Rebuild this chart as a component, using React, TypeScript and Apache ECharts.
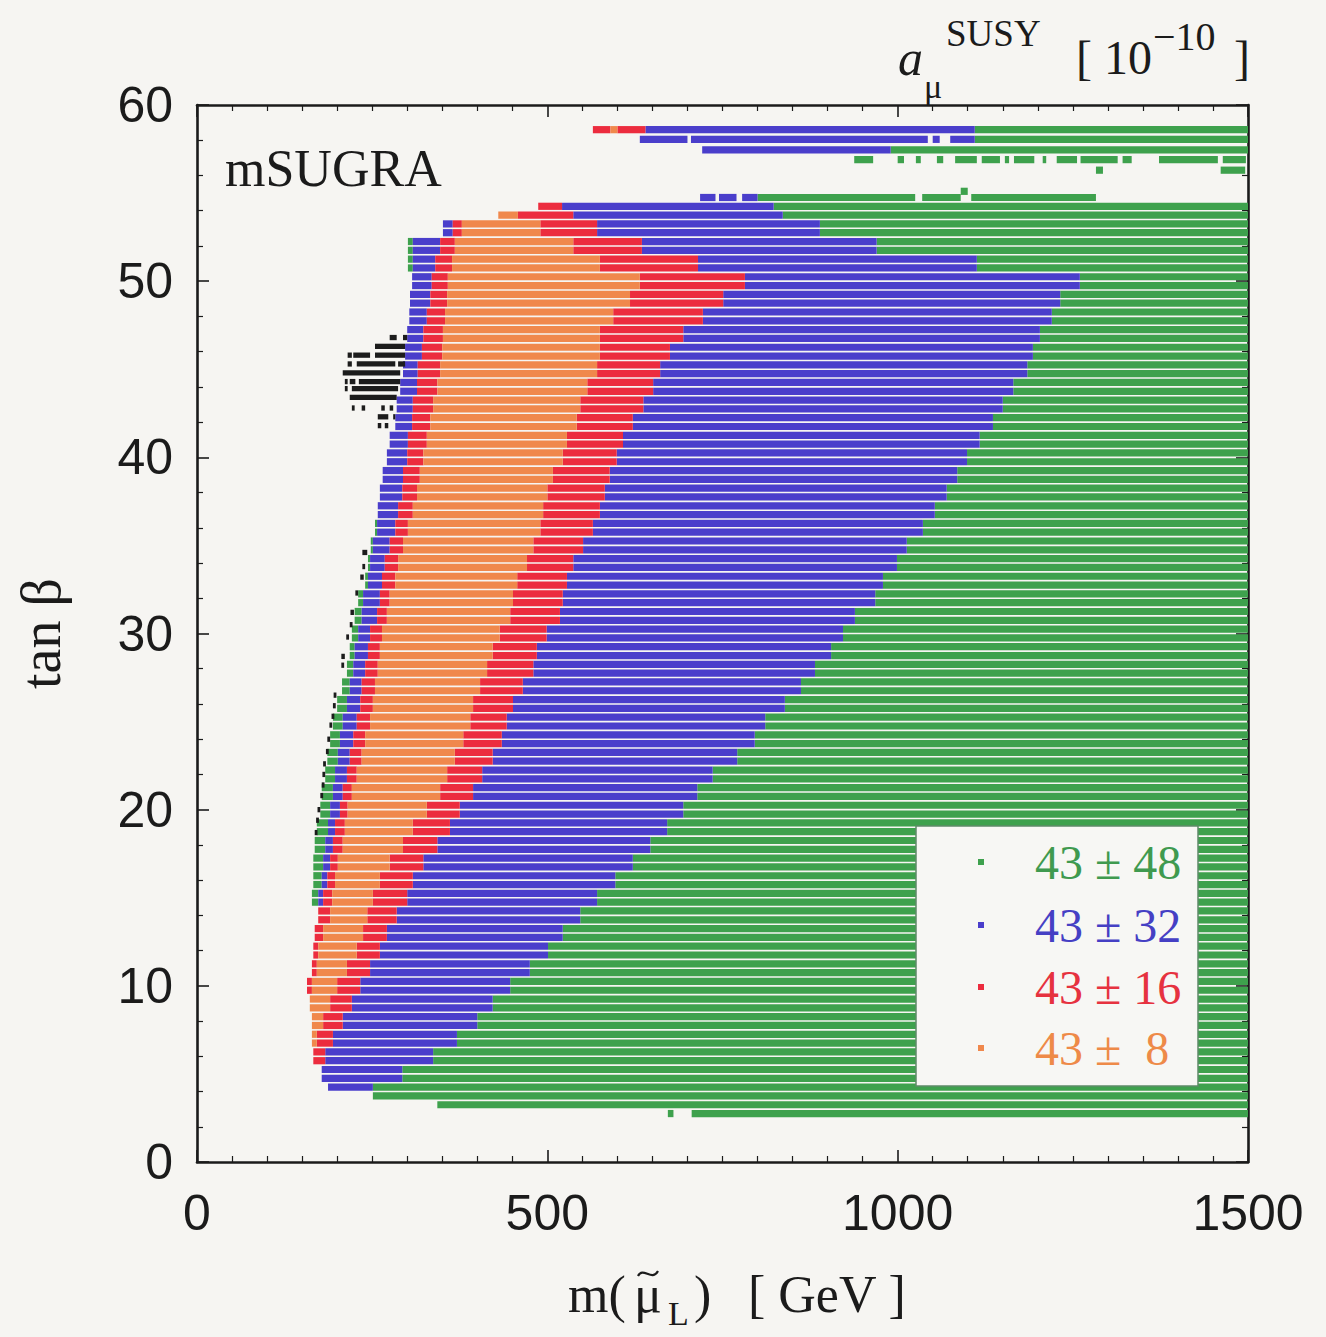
import React, { useEffect, useRef } from "react";
import * as echarts from "echarts";

// ---------- data (tan beta rows, boundaries in GeV) ----------
const TANB = [53, 52, 51, 50, 49, 48, 47, 46, 45, 44, 43, 42, 41, 40, 39, 38, 37, 36, 35, 34, 33, 32, 31, 30, 29, 28, 27, 26, 25, 24, 23, 22, 21, 20, 19, 18, 17, 16, 15, 14, 13, 12, 11, 10, 9, 8, 7, 6, 5];
const GREEN_LEFT = [null, 301, 301, null, null, null, null, null, null, null, null, null, null, null, null, null, null, 254, 248, 244, 240, 230, 225, 221, 218, 214, 207, 200, 194, 190, 186, 183, 178, 176, 171, 168, 166, 166, 164, null, null, null, null, null, null, null, null, null, null];
const BLUE_LEFT = [351, 308, 308, 307, 304, 303, 300, 297, 294, 290, 285, 283, 275, 271, 265, 261, 258, 257, 251, 247, 244, 237, 235, 230, 225, 223, 218, 214, 208, 204, 201, 197, 194, 190, 187, 183, 180, 178, 173, 173, 168, 166, 164, 157, 161, 164, 164, 166, 178];
const RED_LEFT = [365, 347, 340, 335, 333, 328, 323, 321, 315, 314, 308, 307, 301, 300, 294, 293, 287, 283, 275, 268, 264, 261, 257, 247, 244, 240, 235, 233, 228, 223, 218, 214, 208, 204, 197, 194, 190, 186, 180, 173, 168, 166, 164, 157, 161, 164, 164, 166, 178];
const ORANGE_LEFT = [378, 368, 364, 358, 357, 354, 351, 350, 347, 343, 337, 333, 328, 323, 318, 314, 308, 301, 294, 287, 283, 275, 271, 264, 261, 258, 254, 251, 247, 240, 235, 228, 221, 215, 211, 208, 201, 197, 193, 190, 180, 173, 171, 164, 161, 164, 164, 166, 178];
const ORANGE_RIGHT = [490, 537, 575, 632, 618, 594, 575, 575, 571, 557, 547, 542, 528, 522, 508, 500, 494, 490, 480, 471, 457, 451, 447, 432, 422, 414, 404, 394, 390, 380, 368, 357, 347, 328, 308, 294, 275, 261, 251, 243, 237, 228, 214, 200, 190, 180, 171, 166, 178];
const RED_RIGHT = [571, 635, 715, 782, 751, 722, 694, 675, 661, 651, 637, 622, 608, 599, 589, 582, 575, 565, 551, 537, 528, 522, 518, 499, 485, 480, 465, 451, 442, 435, 422, 407, 394, 375, 361, 343, 323, 308, 300, 285, 271, 261, 247, 233, 221, 208, 194, 183, 178];
const BLUE_RIGHT = [889, 970, 1113, 1260, 1232, 1220, 1203, 1193, 1185, 1165, 1150, 1136, 1117, 1099, 1085, 1070, 1053, 1036, 1013, 999, 979, 968, 939, 922, 905, 882, 862, 839, 811, 796, 771, 736, 714, 694, 671, 647, 622, 597, 571, 547, 522, 501, 475, 447, 422, 400, 371, 337, 293];
const M_MAX = 1500;

// single scan lines at the edges of the regions: [tanB, m0, m1, band]
const EDGE_LINES: [number, number, number, string][] = [
  [58.6, 565, 590, "red"], [58.6, 590, 600, "orange"], [58.6, 600, 640, "red"], [58.6, 640, 1110, "blue"], [58.6, 1110, 1500, "green"],
  [58.05, 632, 700, "blue"], [58.05, 705, 1043, "blue"], [58.05, 1050, 1060, "blue"], [58.05, 1075, 1110, "blue"], [58.05, 1110, 1500, "green"],
  [57.45, 721, 990, "blue"], [57.45, 990, 1500, "green"],
  [56.9, 938, 965, "green"], [56.9, 1000, 1009, "green"], [56.9, 1026, 1033, "green"], [56.9, 1056, 1065, "green"],
  [56.9, 1082, 1113, "green"], [56.9, 1120, 1146, "green"], [56.9, 1153, 1159, "green"], [56.9, 1166, 1195, "green"],
  [56.9, 1207, 1212, "green"], [56.9, 1227, 1256, "green"], [56.9, 1261, 1314, "green"], [56.9, 1321, 1334, "green"],
  [56.9, 1373, 1457, "green"], [56.9, 1464, 1497, "green"],
  [56.3, 1283, 1293, "green"], [56.3, 1461, 1496, "green"],
  [55.1, 1090, 1100, "green"],
  [54.75, 718, 740, "blue"], [54.75, 745, 770, "blue"], [54.75, 778, 800, "blue"],
  [54.75, 800, 1025, "green"], [54.75, 1035, 1090, "green"], [54.75, 1105, 1283, "green"],
  [54.25, 487, 521, "red"], [54.25, 521, 823, "blue"], [54.25, 823, 1500, "green"],
  [53.75, 430, 458, "orange"], [53.75, 458, 537, "red"], [53.75, 537, 836, "blue"], [53.75, 836, 1500, "green"],
  [4.25, 187, 251, "blue"], [4.25, 251, 1500, "green"],
  [3.75, 251, 1500, "green"],
  [3.25, 343, 1500, "green"],
  [2.75, 672, 680, "green"], [2.75, 706, 1500, "green"],
];

// excluded points (black): [tanB, m0, m1]
const EXCLUDED: [number, number, number][] = [
  [46.8, 275, 285], [46.8, 294, 300], [46.3, 254, 297],
  [45.8, 215, 221], [45.8, 223, 247], [45.8, 254, 297],
  [45.3, 215, 221], [45.3, 228, 283], [45.3, 287, 297],
  [44.8, 208, 290],
  [44.3, 211, 215], [44.3, 218, 226], [44.3, 231, 290],
  [43.9, 211, 215], [43.9, 221, 287],
  [43.4, 218, 285],
  [42.8, 221, 225], [42.8, 235, 240], [42.8, 263, 268], [42.8, 275, 280],
  [42.3, 258, 273], [42.3, 280, 283],
  [41.8, 258, 263], [41.8, 268, 273],
  [34.6, 236, 243], [33.8, 236, 240], [33.2, 233, 238],
  [32.3, 226, 230], [31.2, 219, 224], [30.5, 218, 222], [29.8, 213, 217],
  [28.7, 206, 211], [28.2, 206, 210], [26.5, 195, 199], [25.9, 194, 198],
  [25.3, 192, 196], [24.8, 189, 193], [24.0, 186, 190], [23.3, 184, 188],
  [22.6, 180, 184], [22.0, 179, 183], [21.4, 178, 182], [20.8, 176, 180],
  [20.0, 172, 176], [19.4, 170, 174], [18.7, 168, 172],
];

const LEGEND_LABELS = ["43 ± 48", "43 ± 32", "43 ± 16", "43 ±  8"];
const LEGEND_BANDS = ["green", "blue", "red", "orange"];
const X_TICKS = [0, 500, 1000, 1500];
const Y_TICKS = [0, 10, 20, 30, 40, 50, 60];

// ---------- styles ----------
const COLORS: Record<string, string> = {
  green: "#3ea14d",
  blue: "#4a3ecb",
  red: "#ec2c3e",
  orange: "#f0884c",
  black: "#1c1c1c",
};
const TEXT_COLORS: Record<string, string> = {
  green: "#3f9a4f",
  blue: "#4540c4",
  red: "#e6323f",
  orange: "#ee8a48",
};
const INK = "#1b1b1b";
const SERIF = '"Liberation Serif", "Times New Roman", serif';
const SANS = '"Liberation Sans", Arial, sans-serif';

function buildBands() {
  const out: Record<string, number[][]> = { green: [], blue: [], red: [], orange: [] };
  TANB.forEach((t, i) => {
    const b = [
      GREEN_LEFT[i] ?? BLUE_LEFT[i],
      BLUE_LEFT[i],
      RED_LEFT[i],
      ORANGE_LEFT[i],
      ORANGE_RIGHT[i],
      RED_RIGHT[i],
      BLUE_RIGHT[i],
      M_MAX,
    ];
    const cols = ["green", "blue", "red", "orange", "red", "blue", "green"];
    for (let k = 0; k < 7; k++) {
      if (b[k + 1] > b[k]) {
        out[cols[k]].push([b[k], b[k + 1], t - 0.25, 0.5]);
        out[cols[k]].push([b[k], b[k + 1], t + 0.25, 0.5]);
      }
    }
  });
  EDGE_LINES.forEach(([t, m0, m1, c]) => out[c].push([m0, m1, t, 0.5]));
  return out;
}

function stripeSeries(name: string, color: string, data: number[][], gap: number) {
  return {
    type: "custom",
    name,
    data,
    clip: true,
    xAxisIndex: 0,
    yAxisIndex: 0,
    dimensions: ["m0", "m1", "tanb", "h"],
    encode: { x: [0, 1], y: 2 },
    renderItem: (_p: any, api: any) => {
      const a = api.coord([api.value(0), api.value(2)]);
      const b = api.coord([api.value(1), api.value(2)]);
      const h = Math.max(1, api.size([0, api.value(3)])[1] - gap);
      return {
        type: "rect",
        shape: { x: a[0], y: a[1] - h / 2, width: Math.max(1.2, b[0] - a[0]), height: h },
        style: { fill: color },
      };
    },
  };
}

function axisCommon(isX: boolean, showLabels: boolean, position: string) {
  return {
    type: "value",
    position,
    min: isX ? X_TICKS[0] : Y_TICKS[0],
    max: isX ? X_TICKS[X_TICKS.length - 1] : Y_TICKS[Y_TICKS.length - 1],
    interval: isX ? X_TICKS[1] - X_TICKS[0] : Y_TICKS[1] - Y_TICKS[0],
    axisLine: { show: true, onZero: false, lineStyle: { color: INK, width: 2.6 } },
    axisTick: { show: true, inside: true, length: 12, lineStyle: { color: INK, width: 1.6 } },
    minorTick: { show: true, splitNumber: isX ? 10 : 5, length: 6, lineStyle: { color: INK, width: 1.2 } },
    splitLine: { show: false },
    minorSplitLine: { show: false },
    axisLabel: {
      show: showLabels,
      fontFamily: SANS,
      fontSize: 50,
      color: INK,
      margin: isX ? 26 : 24,
      formatter: (v: number) => String(v),
    },
  };
}

export default function App() {
  const ref = useRef<HTMLDivElement>(null);
  useEffect(() => {
    if (!ref.current) return;
    const chart = echarts.init(ref.current, undefined, { renderer: "svg" });
    const bands = buildBands();
    const black = EXCLUDED.map(([t, m0, m1]) => [m0, m1, t, 0.3]);

    const legendY = [862, 925, 987, 1048];
    const legendGraphics: any[] = [
      {
        type: "rect",
        z: 100,
        shape: { x: 916, y: 826, width: 282, height: 260 },
        style: { fill: "#f7f7f4", stroke: "#5f8a68", lineWidth: 1.5 },
      },
    ];
    LEGEND_LABELS.forEach((label, i) => {
      const band = LEGEND_BANDS[i];
      legendGraphics.push({
        type: "rect",
        z: 101,
        shape: { x: 978, y: legendY[i] - 3, width: 6, height: 6 },
        style: { fill: COLORS[band] },
      });
      legendGraphics.push({
        type: "text",
        z: 101,
        x: 1035,
        y: legendY[i],
        style: { text: label, fill: TEXT_COLORS[band], font: `48px ${SERIF}`, verticalAlign: "middle" },
      });
    });

    const t = (text: string, x: number, y: number, font: string, align = "left") => ({
      type: "text",
      z: 100,
      x,
      y,
      style: { text, fill: INK, font, verticalAlign: "middle", align },
    });

    const option: any = {
      animation: false,
      backgroundColor: "#f6f5f2",
      grid: { left: 197, right: 78, top: 105, bottom: 175, containLabel: false },
      xAxis: [
        { ...axisCommon(true, true, "bottom") },
        { ...axisCommon(true, false, "top") },
      ],
      yAxis: [
        {
          ...axisCommon(false, true, "left"),
          name: "tan β",
          nameLocation: "middle",
          nameGap: 128,
          nameRotate: 90,
          nameTextStyle: { fontFamily: SERIF, fontSize: 56, color: INK },
        },
        { ...axisCommon(false, false, "right") },
      ],
      series: [
        stripeSeries("43 ± 48", COLORS.green, bands.green, 1.6),
        stripeSeries("43 ± 32", COLORS.blue, bands.blue, 1.6),
        stripeSeries("43 ± 16", COLORS.red, bands.red, 1.6),
        stripeSeries("43 ± 8", COLORS.orange, bands.orange, 1.6),
        stripeSeries("excluded", COLORS.black, black, 0),
      ],
      graphic: [
        t("mSUGRA", 225, 168, `52px ${SERIF}`),
        // top-right quantity label: a_mu^SUSY [10^-10]
        t("a", 898, 58, `italic 50px ${SERIF}`),
        t("μ", 924, 86, `34px ${SERIF}`),
        t("SUSY", 946, 33, `37px ${SERIF}`),
        t("[ 10", 1076, 57, `48px ${SERIF}`),
        t("−10", 1153, 36, `40px ${SERIF}`),
        t("]", 1234, 57, `48px ${SERIF}`),
        // x-axis title: m( mu~_L ) [ GeV ]
        t("m(", 568, 1294, `52px ${SERIF}`),
        t("μ", 648, 1294, `52px ${SERIF}`, "center"),
        {
          type: "bezierCurve",
          z: 100,
          shape: { x1: 638, y1: 1276, cpx1: 643, cpy1: 1266, cpx2: 652, cpy2: 1282, x2: 658, y2: 1271 },
          style: { stroke: INK, lineWidth: 2.2, fill: null },
        },
        t("L", 668, 1313, `34px ${SERIF}`),
        t(")", 694, 1294, `52px ${SERIF}`),
        t("[ GeV ]", 748, 1294, `52px ${SERIF}`),
        ...legendGraphics,
      ],
    };
    chart.setOption(option);
    return () => chart.dispose();
  }, []);
  return (
    <div
      ref={ref}
      style={{ position: "fixed", left: 0, top: 0, width: 1326, height: 1337 }}
    />
  );
}
